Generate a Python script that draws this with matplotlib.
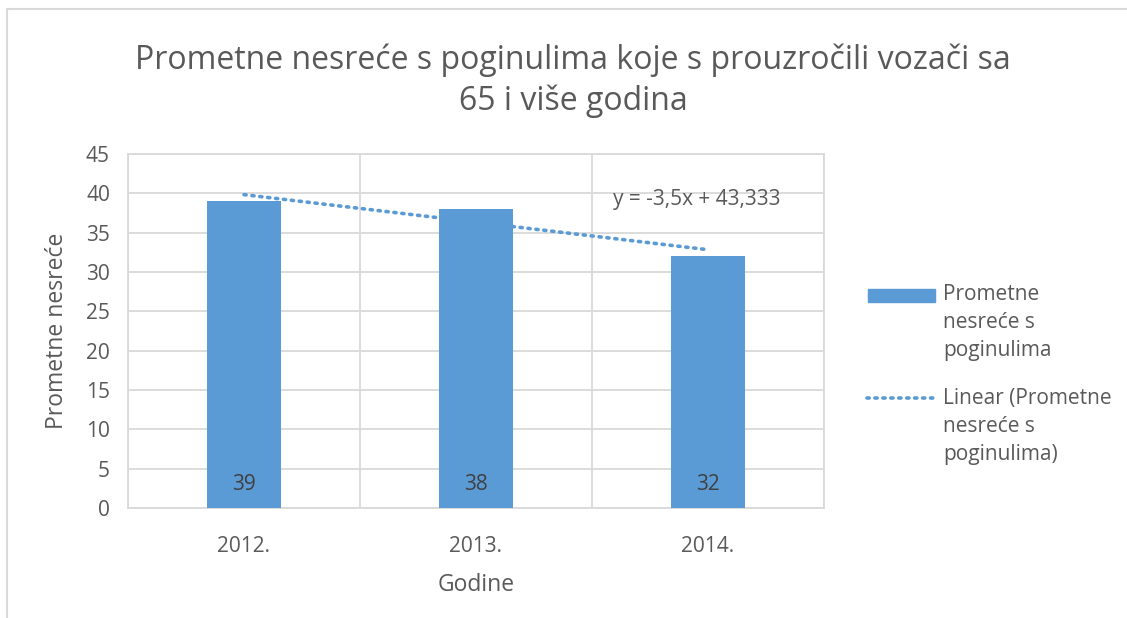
import numpy as np
import matplotlib.pyplot as plt
from matplotlib.patches import Rectangle
from matplotlib.lines import Line2D

# data
godine = ['2012.', '2013.', '2014.']
nesrece = [39, 38, 32]
y_ticks = [0, 5, 10, 15, 20, 25, 30, 35, 40, 45]

blue = '#5B9BD5'
grey_txt = '#595959'
grid_col = '#D9D9D9'

plt.rcParams['font.family'] = ['Open Sans', 'DejaVu Sans']

fig = plt.figure(figsize=(11.27, 6.18), dpi=100)
ax = fig.add_axes([128 / 1127, 1 - 508 / 618, (824 - 128) / 1127, (508 - 154) / 618])

x = np.arange(len(godine))
ax.bar(x, nesrece, width=0.315, color=blue, zorder=3)

# linear trendline (Excel uses x = 1, 2, 3)
xt = x + 1
slope, intercept = np.polyfit(xt, nesrece, 1)
ax.plot(x, slope * xt + intercept, linestyle=(0, (0.6, 1.6)), dash_capstyle='round',
        color=blue, linewidth=2.6, zorder=4)
eq = 'y = {:.1f}x + {:.3f}'.format(slope, intercept).replace('.', ',')
ax.text(1.95, 39.2, eq, ha='center', va='center', fontsize=15, color=grey_txt)

# data labels at the bottom of the bars
for xi, v in zip(x, nesrece):
    ax.text(xi, 3.0, str(v), ha='center', va='center', fontsize=15, color='#404040', zorder=5)

ax.set_xlim(-0.5, 2.5)
ax.set_ylim(0, 45)
ax.set_yticks(y_ticks)
ax.set_xticks(x)
ax.set_xticklabels(godine)
ax.set_xticks([-0.5, 0.5, 1.5, 2.5], minor=True)
ax.grid(True, axis='y', color=grid_col, linewidth=1.3, zorder=0)
ax.grid(True, axis='x', which='minor', color=grid_col, linewidth=1.3, zorder=0)
ax.tick_params(axis='both', which='both', length=0, labelsize=15, colors=grey_txt)
ax.tick_params(axis='x', pad=20)
ax.tick_params(axis='y', pad=13)
for s in ax.spines.values():
    s.set_color(grid_col)
    s.set_linewidth(1.3)

ax.set_xlabel('Godine', fontsize=16.5, color=grey_txt, labelpad=12)
ax.set_ylabel('Prometne nesreće', fontsize=16.5, color=grey_txt, labelpad=12)

fig.text(573 / 1127, 1 - 81 / 618,
         'Prometne nesreće s poginulima koje s prouzročili vozači sa\n65 i više godina',
         ha='center', va='center', fontsize=23, color=grey_txt, linespacing=1.3)

# legend drawn by hand so the swatch sits on the first line
fig.patches.append(Rectangle((868 / 1127, 1 - 302 / 618), 67 / 1127, 13 / 618,
                             transform=fig.transFigure, color=blue))
fig.lines.append(Line2D([867 / 1127, 936 / 1127], [1 - 398 / 618, 1 - 398 / 618],
                        transform=fig.transFigure, color=blue, linewidth=2.6,
                        linestyle=(0, (0.6, 1.6)), dash_capstyle='round'))
fig.text(943 / 1127, 1 - 284 / 618, 'Prometne\nnesreće s\npoginulima', ha='left', va='top',
         fontsize=15, color=grey_txt, linespacing=1.45)
fig.text(943 / 1127, 1 - 388 / 618, 'Linear (Prometne\nnesreće s\npoginulima)', ha='left',
         va='top', fontsize=15, color=grey_txt, linespacing=1.45)

# chart area border (left and top edges only are visible)
fig.lines.append(Line2D([7 / 1127, 7 / 1127], [0, 1 - 9 / 618], transform=fig.transFigure,
                        color=grid_col, linewidth=1.5))
fig.lines.append(Line2D([7 / 1127, 1], [1 - 9 / 618, 1 - 9 / 618], transform=fig.transFigure,
                        color=grid_col, linewidth=1.5))

fig.savefig('out.png', dpi=100)
